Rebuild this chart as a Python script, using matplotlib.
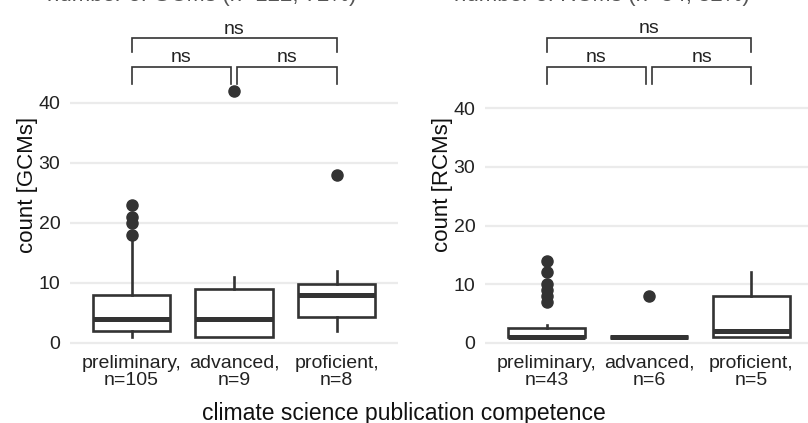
import matplotlib
matplotlib.use("Agg")
import matplotlib.pyplot as plt

plt.rcParams["font.family"] = ["Liberation Sans", "DejaVu Sans"]

# categories / tick labels
gcm_labels = ["preliminary,\nn=105", "advanced,\nn=9", "proficient,\nn=8"]
rcm_labels = ["preliminary,\nn=43", "advanced,\nn=6", "proficient,\nn=5"]

# GCM box statistics
gcm_q1 = [2, 1, 4.25]
gcm_med = [4, 4, 8]
gcm_q3 = [8, 9, 9.75]
gcm_lo = [1, 1, 2]
gcm_hi = [17, 11, 12]
gcm_fliers = [[18, 20, 21, 23], [42], [28]]

# RCM box statistics
rcm_q1 = [1, 1, 1]
rcm_med = [1, 1, 2]
rcm_q3 = [2.5, 1, 8]
rcm_lo = [1, 1, 1]
rcm_hi = [3, 1, 12]
rcm_fliers = [[7, 8, 9, 10, 12, 14], [8], []]

# significance brackets
pairs = [(1, 2), (2, 3), (1, 3)]
sig_labels = ["ns", "ns", "ns"]
gcm_bar_y = [45.9, 45.9, 50.7]
gcm_tip_y = [43.1, 43.1, 48.4]
rcm_bar_y = [47.0, 47.0, 52.0]
rcm_tip_y = [44.1, 44.1, 49.6]

DARK = "#333333"


def panel(ax, labels, q1, med, q3, lo, hi, fliers, bar_y, tip_y, ylabel, ylim):
    stats = [dict(q1=a, med=b, q3=c, whislo=d, whishi=e, fliers=f)
             for a, b, c, d, e, f in zip(q1, med, q3, lo, hi, fliers)]
    ax.bxp(stats, positions=[1, 2, 3], widths=0.76, showcaps=False,
           patch_artist=True,
           boxprops=dict(facecolor="white", edgecolor=DARK, linewidth=1.9),
           whiskerprops=dict(color=DARK, linewidth=1.9),
           medianprops=dict(color=DARK, linewidth=3.6, solid_capstyle="butt"),
           flierprops=dict(marker="o", markerfacecolor=DARK, markeredgecolor=DARK,
                           markersize=8))
    for (a, b), lab, by, ty in zip(pairs, sig_labels, bar_y, tip_y):
        x0 = a + (0.028 if a == 2 else 0)
        x1 = b - (0.028 if b == 2 else 0)
        ax.plot([x0, x0, x1, x1], [ty, by, by, ty], color=DARK, lw=1.2,
                clip_on=False, solid_joinstyle="miter")
        ax.annotate(lab, ((x0 + x1) / 2, by), xytext=(0, 3.5),
                    textcoords="offset points", ha="center", va="baseline",
                    fontsize=14, color="#222222", annotation_clip=False)
    ax.set_xlim(0.4, 3.6)
    ax.set_ylim(*ylim)
    ax.set_yticks([0, 10, 20, 30, 40])
    ax.set_xticks([1, 2, 3])
    ax.set_xticklabels(labels, linespacing=1.05)
    ax.yaxis.grid(True, color="#EBEBEB", lw=1.6)
    ax.set_axisbelow(True)
    for s in ax.spines.values():
        s.set_visible(False)
    ax.tick_params(axis="both", length=0, labelsize=14, colors="#222222")
    ax.tick_params(axis="y", pad=7)
    ax.tick_params(axis="x", pad=6)
    ax.set_ylabel(ylabel, fontsize=16, color="#111111", labelpad=0)


fig = plt.figure(figsize=(8.08, 4.23), dpi=100)
ax1 = fig.add_axes([70 / 808, 0.1813, 328 / 808, 0.7646])
ax2 = fig.add_axes([485 / 808, 0.1813, 328 / 808, 0.7646])

panel(ax1, gcm_labels, gcm_q1, gcm_med, gcm_q3, gcm_lo, gcm_hi, gcm_fliers,
      gcm_bar_y, gcm_tip_y, "count [GCMs]", (-0.6, 53.3))
panel(ax2, rcm_labels, rcm_q1, rcm_med, rcm_q3, rcm_lo, rcm_hi, rcm_fliers,
      rcm_bar_y, rcm_tip_y, "count [RCMs]", (-0.6, 54.55))

fig.text(47 / 808, 1 - 1.5 / 423, "number of GCMs (n=122, 72%)", ha="left",
         va="baseline", fontsize=16, color="#555555")
fig.text(454 / 808, 1 - 1.5 / 423, "number of RCMs (n=54, 32%)", ha="left",
         va="baseline", fontsize=16, color="#555555")
fig.text(0.5, 3 / 423, "climate science publication competence", ha="center",
         va="baseline", fontsize=16.5, color="#111111")

fig.savefig("out.png", dpi=100)
